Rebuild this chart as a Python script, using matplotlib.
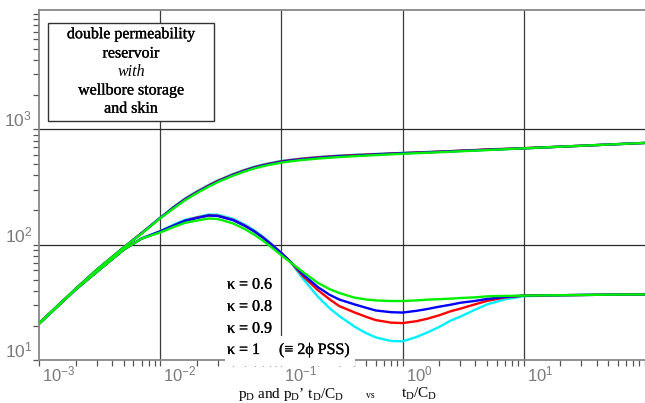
import matplotlib
matplotlib.use("Agg")
import matplotlib.pyplot as plt
import matplotlib.patheffects as pe
from matplotlib.patches import Rectangle
from matplotlib.transforms import blended_transform_factory, ScaledTranslation
from matplotlib.ticker import FixedLocator, NullFormatter

plt.rcParams["mathtext.fontset"] = "custom"
plt.rcParams["mathtext.rm"] = "Liberation Serif"
plt.rcParams["mathtext.it"] = "Liberation Serif:italic"
plt.rcParams["mathtext.bf"] = "Liberation Serif:bold"
plt.rcParams["mathtext.sf"] = "Liberation Sans"

# dimensionless time tD/CD
t_cd = [0.001, 0.002, 0.003, 0.005, 0.007, 0.01, 0.013, 0.016, 0.02, 0.025,
        0.03, 0.04, 0.05, 0.06, 0.07, 0.08, 0.1, 0.12, 0.15, 0.2,
        0.25, 0.3, 0.4, 0.5, 0.6, 0.8, 1.0, 1.3, 1.6, 2,
        2.5, 3, 4, 5, 7, 10, 20, 50, 100]

# pressure pD for each layer ratio kappa
p_k06 = [21.0, 41.5, 61, 95, 125, 170, 208, 243, 280, 318,
         350, 397, 432, 459, 478, 493, 515, 529, 543, 558,
         568, 575, 585, 592, 598, 607, 614, 621, 627, 633,
         640, 645, 654, 661, 672, 684, 707, 738, 762]
p_k08 = [21.0, 41.5, 61, 95, 126, 171, 211, 247, 284, 323,
         355, 403, 438, 466, 485, 500, 523, 537, 551, 566,
         577, 584, 592, 599, 605, 614, 621, 626, 632, 638,
         645, 650, 659, 666, 675, 684, 707, 738, 762]
p_k09 = [21.0, 41.5, 61, 95, 126, 171, 213, 249, 287, 326,
         359, 407, 443, 470, 490, 505, 528, 542, 557, 572,
         582, 589, 598, 604, 609, 617, 623, 629, 635, 641,
         648, 653, 662, 670, 677, 687, 707, 738, 762]
p_k10 = [21.0, 41.5, 61, 95, 126, 172, 215, 252, 290, 329,
         362, 411, 447, 475, 495, 510, 533, 545, 559, 575,
         585, 592, 601, 607, 612, 619, 625, 631, 636, 641,
         646, 651, 659, 664, 674, 684, 707, 738, 762]

# derivative pD' tD/CD for each kappa
d_k06 = [20.8, 41, 58.5, 91, 113, 128, 143, 155, 162, 169,
         167, 153, 136.5, 122, 109, 98, 81, 70, 58.3, 46.8,
         41.3, 38.3, 34.9, 33.6, 33.0, 32.6, 32.6, 33.0, 33.5, 33.8,
         34.2, 34.6, 35.1, 35.8, 36.1, 36.3, 36.6, 37.0, 37.2]
d_k08 = [20.8, 41, 58.5, 91, 113, 130.6, 147.3, 161.4, 170.3, 179.5,
         177.4, 163.4, 145.8, 130.1, 115.8, 103.4, 84.6, 70.7, 55.7, 43.0,
         36.9, 33.6, 30.5, 28.5, 27.0, 26.1, 25.9, 26.8, 27.8, 29.1,
         30.3, 31.5, 32.7, 34.0, 35.4, 36.3, 36.6, 37.0, 37.2]
d_k09 = [20.8, 41, 58.5, 91, 113, 130.6, 147.3, 161.4, 172.0, 179.5,
         178.4, 164.0, 146.3, 130.5, 116.2, 103.8, 84.8, 70.4, 53.8, 40.5,
         33.7, 29.5, 26.0, 23.8, 22.3, 21.2, 21.0, 21.8, 22.9, 24.5,
         26.6, 28.0, 30.6, 32.7, 35.0, 36.3, 36.6, 37.0, 37.2]
d_k10 = [20.8, 41, 58.5, 91, 114, 131.8, 150.3, 164.6, 173.7, 183.0,
         182.0, 167.4, 149.3, 133.0, 118.0, 105.1, 85.1, 70, 51.2, 35.5,
         28.2, 24.2, 19.6, 17.2, 15.8, 14.7, 14.6, 15.9, 17.4, 19.4,
         22.1, 23.9, 27.5, 30.5, 33.7, 35.9, 36.6, 37.0, 37.2]

kappa_labels = ["\u03ba = 0.6", "\u03ba = 0.8", "\u03ba = 0.9", "\u03ba = 1"]
box_lines = ["double permeability", "reservoir", "with", "wellbore storage", "and skin"]
x_tick_exp = [-3, -2, -1, 0, 1]
y_tick_exp = [1, 2, 3]

W, H = 645, 403
fig = plt.figure(figsize=(W / 100, H / 100), dpi=100)


def fx(x):
    return x / W


def fy(y):
    return 1 - y / H


ax = fig.add_axes([fx(39.2), fy(360.3), fx(644.8) - fx(39.2), (360.3 - 10) / H])
ax.set_xscale("log")
ax.set_yscale("log")
ax.set_xlim(1e-3, 1e2)
ax.set_ylim(10, 10 ** 4.033)

# grid lines at the inner decades
for xv in [1e-2, 1e-1, 1e0, 1e1]:
    ax.axvline(xv, color="#3a3a3a", lw=0.9, zorder=1)
for yv in [1e2, 1e3]:
    ax.axhline(yv, color="#2a2a2a", lw=0.9, zorder=1)

series = [
    (p_k10, d_k10, "#00f0ff"),
    (p_k09, d_k09, "#ff0000"),
    (p_k08, d_k08, "#0000ff"),
    (p_k06, d_k06, "#00f000"),
]
for p_vals, d_vals, col in series:
    ax.plot(t_cd, p_vals, color=col, lw=1.7, zorder=3, solid_capstyle="butt")
    ax.plot(t_cd, d_vals, color=col, lw=1.7, zorder=3, solid_capstyle="butt")

for side in ["left", "bottom", "top"]:
    ax.spines[side].set_color("#888888")
    ax.spines[side].set_linewidth(1.3)
ax.spines["right"].set_visible(False)

ax.xaxis.set_major_locator(FixedLocator([10.0 ** e for e in range(-3, 3)]))
ax.xaxis.set_minor_locator(FixedLocator([k * 10.0 ** e for e in range(-3, 2) for k in range(2, 10)]))
ax.yaxis.set_major_locator(FixedLocator([10.0 ** e for e in y_tick_exp]))
ax.yaxis.set_minor_locator(FixedLocator([k * 10.0 ** e for e in range(1, 4) for k in range(2, 10)] + [1e4]))
ax.xaxis.set_major_formatter(NullFormatter())
ax.xaxis.set_minor_formatter(NullFormatter())
ax.yaxis.set_major_formatter(NullFormatter())
ax.yaxis.set_minor_formatter(NullFormatter())
ax.tick_params(which="both", direction="out", length=4, width=0.9, color="#555555",
               top=False, right=False)

serif = ["Liberation Serif", "DejaVu Serif"]
heavy = [pe.withStroke(linewidth=0.2, foreground="black")]

# description box
fig.patches.append(Rectangle((fx(48), fy(120.7)), fx(214) - fx(48), (120.7 - 22.7) / H,
                             transform=fig.transFigure, facecolor="white",
                             edgecolor="#333333", lw=1.0, zorder=1))
box_base = [38.3, 57.5, 76, 94.5, 112.7]
for line, yb in zip(box_lines, box_base):
    is_with = line == "with"
    fig.text(fx(131), fy(yb), line, ha="center", va="baseline", family=serif,
             fontsize=11.5, style="italic" if is_with else "normal", zorder=3,
             path_effects=None if is_with else heavy)

# kappa labels (the last one sits on a white patch over the axis frame)
fig.patches.append(Rectangle((fx(225), fy(366)), fx(355) - fx(225), (366 - 336) / H,
                             transform=fig.transFigure, facecolor="white",
                             edgecolor="none", zorder=1))
kappa_base = [288.7, 310.7, 332.7, 354.0]
for lab, yb in zip(kappa_labels, kappa_base):
    fig.text(fx(227), fy(yb), lab, ha="left", va="baseline", family=serif,
             fontsize=11.5, zorder=3, path_effects=heavy)
fig.text(fx(279), fy(354.0), "(\u2261 2\u03d5 PSS)", ha="left", va="baseline",
         family=serif, fontsize=11.5, zorder=3, path_effects=heavy)

# tick labels, drawn above the white patch
xf = blended_transform_factory(ax.transData, ax.transAxes)
for e in x_tick_exp:
    fig.text(10.0 ** e, 0, r"$\mathsf{10^{%d}}$" % e,
             transform=xf + ScaledTranslation(3 / 100, -21.5 / 100, fig.dpi_scale_trans),
             ha="left", va="baseline", color="#7a7a7a", fontsize=12, zorder=4)
yf = blended_transform_factory(ax.transAxes, ax.transData)
for e in y_tick_exp:
    fig.text(0, 10.0 ** e, r"$\mathsf{10^{%d}}$" % e,
             transform=yf + ScaledTranslation(-7 / 100, 2.5 / 100, fig.dpi_scale_trans),
             ha="right", va="baseline", color="#7a7a7a", fontsize=12.5, zorder=4)

# axis title
fig.text(fx(238), fy(398), "$\\mathrm{p_D\\ and\\ p_D\u2019\\ t_D/C_D}$", ha="left",
         va="baseline", fontsize=11)
fig.text(fx(366), fy(398), "vs", ha="left", va="baseline", family=serif, fontsize=7)
fig.text(fx(401), fy(398), "$\\mathrm{t_D/C_D}$", ha="left", va="baseline", fontsize=11)

fig.savefig("out.png", dpi=100)
